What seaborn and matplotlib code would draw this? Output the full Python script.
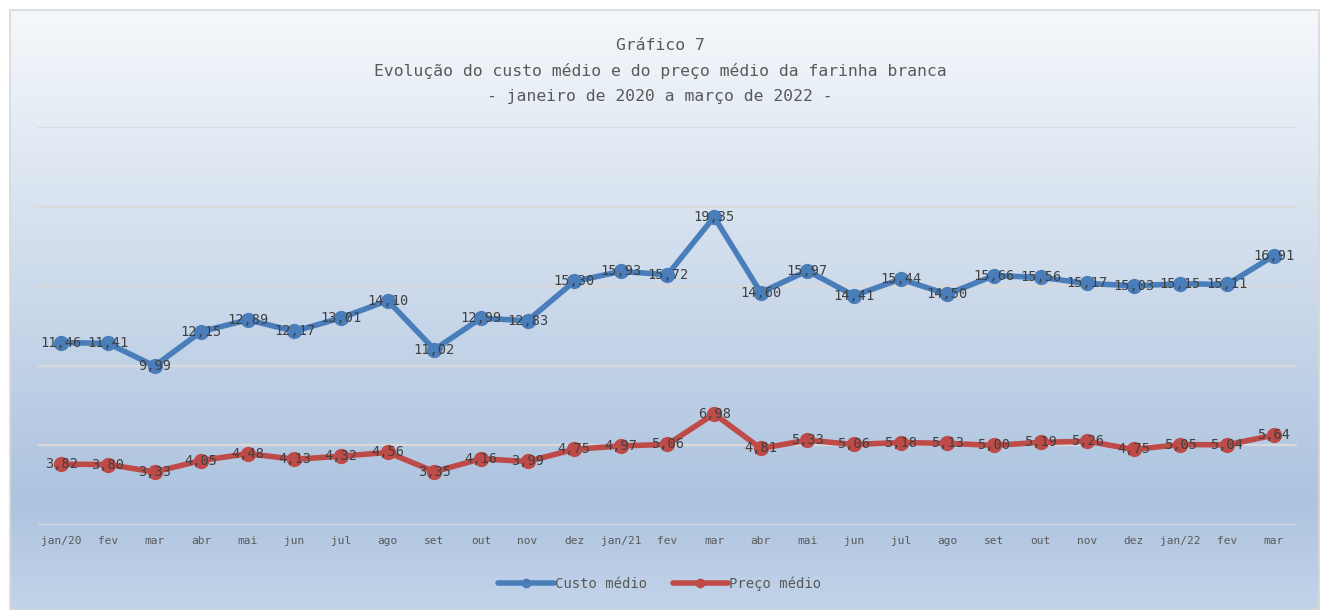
import numpy as np
import pandas as pd
import matplotlib
matplotlib.use('Agg')
import matplotlib.pyplot as plt
from matplotlib.colors import LinearSegmentedColormap
from matplotlib.lines import Line2D
from matplotlib.patches import Rectangle
import seaborn as sns

# Data
meses = ['jan/20', 'fev', 'mar', 'abr', 'mai', 'jun', 'jul', 'ago', 'set', 'out', 'nov', 'dez',
         'jan/21', 'fev', 'mar', 'abr', 'mai', 'jun', 'jul', 'ago', 'set', 'out', 'nov', 'dez',
         'jan/22', 'fev', 'mar']
custo_medio = [11.46, 11.41, 9.99, 12.15, 12.89, 12.17, 13.01, 14.10, 11.02, 12.99, 12.83, 15.30,
               15.93, 15.72, 19.35, 14.60, 15.97, 14.41, 15.44, 14.50, 15.66, 15.56, 15.17, 15.03,
               15.15, 15.11, 16.91]
preco_medio = [3.82, 3.80, 3.33, 4.05, 4.48, 4.13, 4.32, 4.56, 3.35, 4.16, 3.99, 4.75,
               4.97, 5.06, 6.98, 4.81, 5.33, 5.06, 5.18, 5.13, 5.00, 5.19, 5.26, 4.75,
               5.05, 5.04, 5.64]
series = ['Custo médio', 'Preço médio']

sns.set_style('white')
plt.rcParams['font.family'] = ['DejaVu Sans Mono', 'DejaVu Sans']

colors = {'Custo médio': '#4a7ebb', 'Preço médio': '#be4b48'}

df = pd.DataFrame({
    'pos': list(range(len(meses))) * 2,
    'valor': custo_medio + preco_medio,
    'serie': [series[0]] * len(meses) + [series[1]] * len(meses),
})

fig = plt.figure(figsize=(13.2, 6.1), dpi=100)

# background gradient (chart area)
bg = fig.add_axes([10 / 1320, 0, 1 - 10 / 1320, 600 / 610], zorder=-10)
cmap = LinearSegmentedColormap.from_list(
    'bg', [(0.0, '#f5f8fb'), (0.82, '#adc3df'), (1.0, '#c3d4e9')])
grad = np.linspace(0, 1, 256).reshape(-1, 1)
bg.imshow(grad, cmap=cmap, aspect='auto', extent=[0, 1, 0, 1])
bg.set_axis_off()
fig.patches.append(Rectangle((10 / 1320, 0), 1 - 10 / 1320 - 0.001, 600 / 610,
                             transform=fig.transFigure, fill=False,
                             edgecolor='#d9d9d9', linewidth=1.2, zorder=-5))

ax = fig.add_axes([38 / 1320, 1 - 525 / 610, (1297 - 38) / 1320, (525 - 127) / 610])
ax.set_facecolor('none')

sns.lineplot(data=df, x='pos', y='valor', hue='serie', palette=colors,
             marker='o', markersize=11, markeredgewidth=0, linewidth=4,
             sort=False, legend=False, ax=ax)

for vals in (custo_medio, preco_medio):
    for i, v in enumerate(vals):
        ax.text(i, v, f'{v:.2f}'.replace('.', ','), ha='center', va='center',
                fontsize=9.8, color='#404040', zorder=5)

ax.set_xlim(-0.5, len(meses) - 0.5)
ax.set_ylim(0, 25)
ax.set_yticks(np.arange(0, 26, 5))
ax.set_yticklabels([])
ax.set_xticks(range(len(meses)))
ax.set_xticklabels(meses, fontsize=8, color='#595959')
ax.tick_params(axis='both', length=0, pad=8)
ax.grid(axis='y', color='#d9d9d9', linewidth=1.6)
ax.set_axisbelow(True)
ax.set_xlabel('')
ax.set_ylabel('')
for s in ax.spines.values():
    s.set_visible(False)

fig.text(0.5, 1 - 45 / 610, 'Gráfico 7', ha='center', va='center', fontsize=11.8, color='#595959')
fig.text(0.5, 1 - 71 / 610, 'Evolução do custo médio e do preço médio da farinha branca',
         ha='center', va='center', fontsize=11.8, color='#595959')
fig.text(0.5, 1 - 97 / 610, '- janeiro de 2020 a março de 2022 -',
         ha='center', va='center', fontsize=11.8, color='#595959')

handles = [Line2D([0], [0], color=colors[s], linewidth=4, marker='o', markersize=7,
                  markeredgewidth=0) for s in series]
fig.legend(handles, series, loc='center', bbox_to_anchor=(0.5, 1 - 584 / 610), ncol=2,
           frameon=False, fontsize=10, handlelength=4, columnspacing=1.8,
           handletextpad=0.1, labelcolor='#595959')

fig.savefig('out.png', dpi=100)
